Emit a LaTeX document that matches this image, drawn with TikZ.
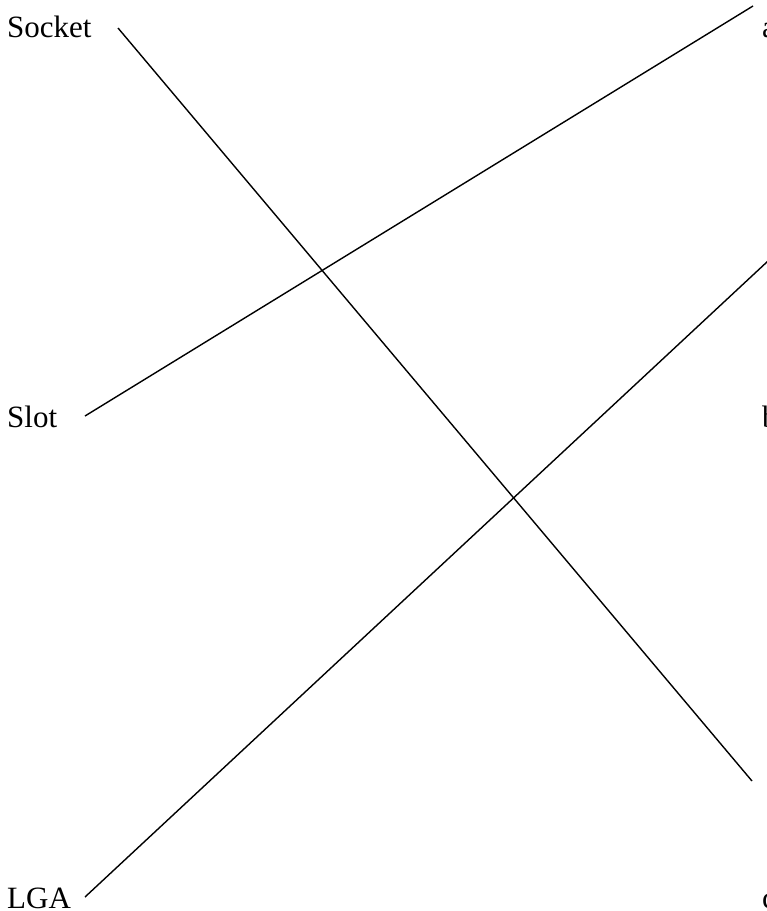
\documentclass[tikz,border=0pt]{standalone}
\usepackage{fontspec}
\setmainfont{Liberation Serif}
\begin{document}
\begin{tikzpicture}[x=1pt,y=-1pt,
  lbl/.style={anchor=base west,inner sep=0pt,font=\fontsize{31}{36}\selectfont},
  conn/.style={line width=1.4pt,black}]
\useasboundingbox (0,0) rectangle (767,911);
% left labels
\node[lbl] (socket) at (7,37) {Socket};
\node[lbl] (slot) at (7,427) {Slot};
\node[lbl] (lga) at (7,908) {LGA};
% right labels (cropped at the right edge)
\node[lbl] (a) at (762,37) {a};
\node[lbl] (b) at (762,427) {b};
\node[lbl] (c) at (762,908) {c};
% connector ends
\coordinate (s1) at (118,28);
\coordinate (s2) at (752,781);
\coordinate (l1) at (85,416);
\coordinate (l2) at (753,6);
\coordinate (g1) at (85,897);
\coordinate (g2) at (768,261);
\draw[conn] (s1) -- (s2);
\draw[conn] (l1) -- (l2);
\draw[conn] (g1) -- (g2);
\end{tikzpicture}
\end{document}
